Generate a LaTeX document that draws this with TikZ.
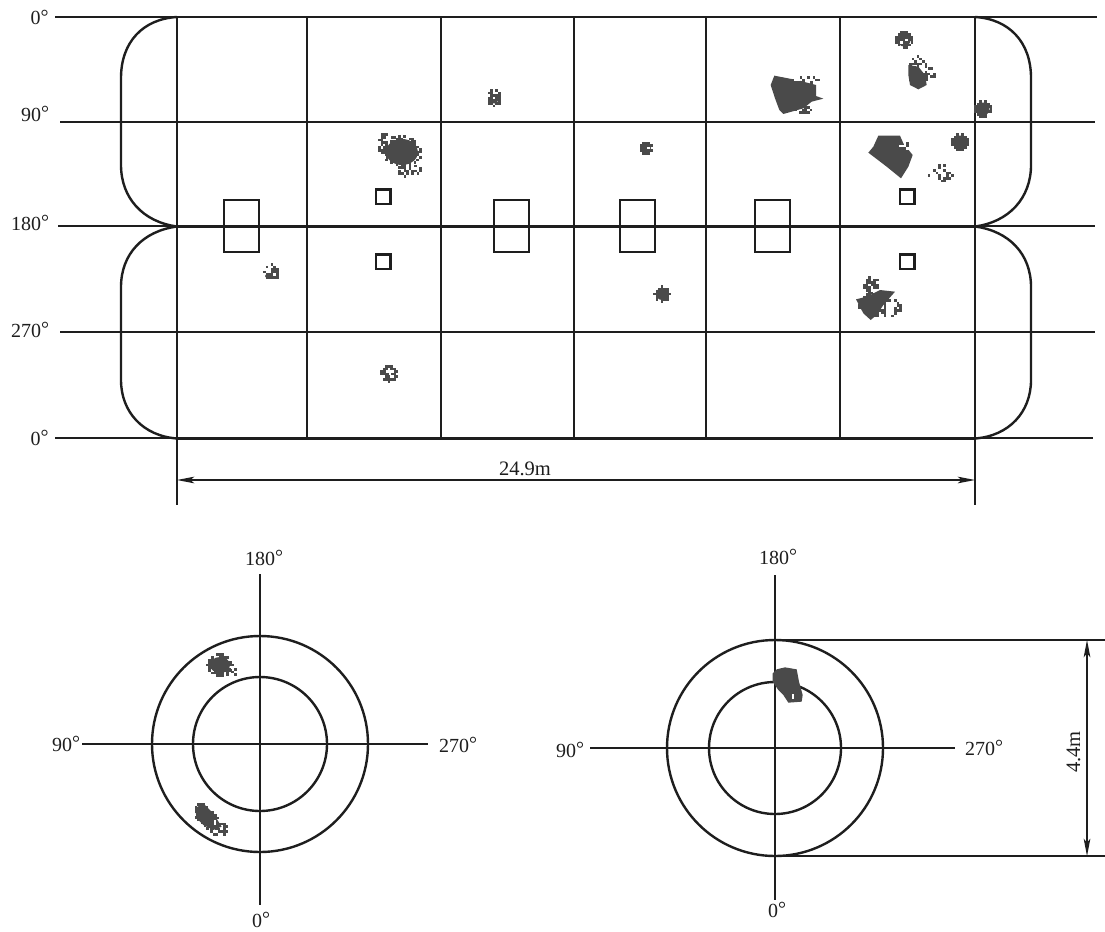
\documentclass[tikz,border=0pt]{standalone}
\usepackage{fontspec}
\usetikzlibrary{arrows.meta}
\setmainfont{Liberation Serif}
\definecolor{ink}{HTML}{1E1E1E}
\definecolor{blob}{HTML}{4A4A4A}
\tikzset{
  thinl/.style={draw=ink,line width=0.8pt},
  thickl/.style={draw=ink,line width=1.8pt},
  lab/.style={font=\fontsize{15}{17}\selectfont,text=ink,inner sep=0pt,anchor=base},
  dimarrow/.style={draw=ink,line width=0.8pt,{Stealth[length=13pt,width=5pt,inset=3pt]}-{Stealth[length=13pt,width=5pt,inset=3pt]}},
  blobf/.style={fill=blob,draw=none}
}
\newcommand\dg{\raisebox{1.2pt}{°}}
% pixels on a 2.6 grid inside an ellipse, each kept with probability #5
\newcommand\fuzz[6]{% cx cy rx ry density colour
  \pgfmathtruncatemacro\nx{ceil(#3/2.6)}
  \pgfmathtruncatemacro\ny{ceil(#4/2.6)}
  \foreach \i in {-\nx,...,\nx}{
    \foreach \j in {-\ny,...,\ny}{
      \pgfmathsetmacro\xx{#1+\i*2.6}
      \pgfmathsetmacro\yy{#2+\j*2.6}
      \pgfmathsetmacro\dd{(\i*2.6/#3)^2+(\j*2.6/#4)^2}
      \pgfmathsetmacro\pp{rnd}
      \pgfmathparse{(\dd<=1 && \pp<#5) ? 1 : 0}
      \ifnum\pgfmathresult=1
        \fill[#6] (\xx-1.3,\yy-1.3) rectangle (\xx+1.3,\yy+1.3);
      \fi
    }
  }
}
% round spot: dense grains, a few holes
\newcommand\spot[3]{% cx cy r
  \fill[blobf] (#1,#2) circle [radius=#3-2];
  \fuzz{#1}{#2}{#3}{#3}{0.9}{blob}
}
\begin{document}
\begin{tikzpicture}[x=0.75pt,y=-0.75pt]
\pgfmathsetseed{4217}
\useasboundingbox (0,0) rectangle (1105,931);
\fill[white] (0,0) rectangle (1105,931);
% grid
\foreach \x in {177,307,441,574,706,840,975}{\draw[thinl] (\x,17) -- (\x,438);}
\draw[thinl] (177,438) -- (177,505);
\draw[thinl] (975,438) -- (975,505);
\draw[thinl] (55,17) -- (177,17);
\draw[thinl] (975,17) -- (1097,17);
\draw[thinl] (60,122) -- (1095,122);
\draw[thinl] (58,226) -- (1095,226);
\draw[thinl] (60,332) -- (1095,332);
\draw[thinl] (55,438) -- (1093,438);
\draw[thickl] (177,17) -- (975,17);
\draw[thickl] (177,226.5) -- (975,226.5);
\draw[thickl] (177,438.5) -- (975,438.5);
% rounded ends
\draw[thickl] (177,17) .. controls (143,19) and (121,42) .. (121,78) -- (121,165) .. controls (121,198) and (143,222) .. (177,226.5)
  .. controls (143,231) and (121,254) .. (121,287) -- (121,380) .. controls (121,412) and (143,436) .. (177,438.5);
\draw[thickl] (975,17) .. controls (1009,19) and (1031,42) .. (1031,78) -- (1031,165) .. controls (1031,198) and (1009,222) .. (975,226.5)
  .. controls (1009,231) and (1031,254) .. (1031,287) -- (1031,380) .. controls (1031,412) and (1009,436) .. (975,438.5);
% boxes
\foreach \x in {224,494,620,755}{\draw[thinl,line width=1.2pt] (\x,200) rectangle (\x+35,252);}
\foreach \x in {376,900}{
  \draw[thickl,line width=1.6pt] (\x,189.5) rectangle (\x+14.5,204);
  \draw[thickl,line width=1.6pt] (\x,254.5) rectangle (\x+14.5,269);
}
% blobs, upper strip
\begin{scope}[shift={(740,10)},scale=1/3]
\fill[blobf] (103,197) -- (170,210) -- (228,225) -- (228,258) -- (250,266) -- (215,275) -- (190,295) -- (130,312) -- (118,300) -- (105,265) -- (92,225) -- cycle;
\fill[blobf] (415,377) -- (480,377) -- (490,400) -- (518,435) -- (505,470) -- (483,505) -- (440,470) -- (385,428) -- (400,410) -- cycle;
\fill[blobf] (505,165) -- (535,170) -- (555,195) -- (560,225) -- (535,238) -- (510,225) -- (505,195) -- cycle;
\end{scope}
\fuzz{806}{80}{11}{3.5}{0.5}{white}
\fuzz{806}{80}{13}{4}{0.5}{blob}
\fuzz{803}{110}{9}{5}{0.5}{blob}
\fuzz{905}{146}{6}{4}{0.4}{white}
\fuzz{905}{143}{7}{4}{0.4}{blob}
\fuzz{918}{72}{10}{16}{0.6}{blob}
\fuzz{929}{74}{7}{6}{0.5}{blob}
\spot{904}{40}{8.5}
\fuzz{904}{40}{4}{4}{0.15}{white}
\spot{983}{109}{8.5}
\spot{960}{142}{8.5}
\fuzz{961}{144}{4}{4}{0.15}{white}
\fuzz{942}{173}{14}{8}{0.3}{blob}
\fill[blobf] (494,99) circle [radius=4.5];
\fuzz{494}{98}{7}{9}{0.7}{blob}
\fuzz{494}{98}{4}{4}{0.2}{white}
\spot{646}{148}{7}
\fuzz{646}{148}{3}{3}{0.3}{white}
\fill[blobf] (402,152) ellipse [x radius=16,y radius=13];
\fuzz{402}{152}{20}{16}{0.5}{blob}
\fuzz{387}{145}{10}{13}{0.6}{blob}
\fuzz{410}{171}{12}{6}{0.55}{blob}
\fill[blobf] (269,276) ellipse [x radius=4,y radius=2.5];
\fuzz{272}{272}{8}{8}{0.65}{blob}
\spot{662}{294}{8}
\fuzz{662}{294}{4}{4}{0.15}{white}
\fuzz{389}{374}{9}{9}{0.8}{blob}
\fuzz{390}{374}{4}{4}{0.4}{white}
% blob, lower right
\begin{scope}[shift={(830,240)},scale=1/3]
\fill[blobf] (78,178) -- (110,170) -- (150,150) -- (195,155) -- (160,195) -- (140,225) -- (122,240) -- (100,220) -- cycle;
\end{scope}
\fuzz{872}{285}{9}{9}{0.6}{blob}
\fuzz{890}{308}{11}{9}{0.45}{blob}
\fuzz{872}{305}{14}{12}{0.5}{blob}
% circles
\draw[thinl] (260,574) -- (260,905);
\draw[thinl] (82,744) -- (428,744);
\draw[thickl] (260,744) circle [radius=108];
\draw[thickl] (260,744) circle [radius=67];
\fill[blobf] (220,665) ellipse [x radius=10,y radius=8];
\fuzz{220}{665}{13}{11}{0.8}{blob}
\fuzz{221}{664}{6}{5}{0.1}{white}
\fuzz{230}{672}{7}{5}{0.45}{blob}
\begin{scope}[shift={(180,640)},scale=1/3]
\fill[blobf] (45,505) -- (70,490) -- (100,520) -- (125,560) -- (100,570) -- (70,555) -- (50,535) -- cycle;
\end{scope}
\foreach \t in {0,0.5,1}{\fuzz{201+18*\t}{812+17*\t}{9}{9}{0.55}{blob}}
\fuzz{215}{826}{7}{7}{0.2}{white}
\draw[thinl] (775,575) -- (775,900);
\draw[thinl] (590,748) -- (955,748);
\draw[thickl] (775,748) circle [radius=108];
\draw[thickl] (775,748) circle [radius=66];
\begin{scope}[shift={(750,640)},scale=1/3]
\fill[blobf] (68,100) -- (80,88) -- (105,82) -- (140,88) -- (147,125) -- (158,165) -- (155,185) -- (115,188) -- (100,165) -- (85,150) -- (68,125) -- cycle;
\end{scope}
\fuzz{793}{695}{4}{4}{0.3}{white}
% dimensions
\coordinate (dimLa) at (177,480);
\coordinate (dimLb) at (975,480);
\draw[dimarrow] (dimLa) -- (dimLb);
\coordinate (dimTop) at (1087,640);
\coordinate (dimBot) at (1087,856);
\draw[thinl] (775,640) -- (1105,640);
\draw[thinl] (775,856) -- (1105,856);
\draw[dimarrow] (dimTop) -- (dimBot);
% labels
\node[lab,font=\fontsize{15.4}{17}\selectfont] (len) at (525,475) {24.9m};
\node[lab,font=\fontsize{15.4}{17}\selectfont,rotate=90] (dia) at (1080,752) {4.4m};
\node[lab] (a1) at (39.5,25) {0\dg};
\node[lab] (a2) at (35,121) {90\dg};
\node[lab] (a3) at (30,230) {180\dg};
\node[lab] (a4) at (30,337) {270\dg};
\node[lab] (a5) at (39.5,445) {0\dg};
\node[lab] (b1) at (264,565) {180\dg};
\node[lab] (b2) at (66,751) {90\dg};
\node[lab] (b3) at (458,752) {270\dg};
\node[lab] (b4) at (261,927) {0\dg};
\node[lab] (c1) at (778,564) {180\dg};
\node[lab] (c2) at (570,757) {90\dg};
\node[lab] (c3) at (984,755) {270\dg};
\node[lab] (c4) at (777,917) {0\dg};
\end{tikzpicture}
\end{document}
